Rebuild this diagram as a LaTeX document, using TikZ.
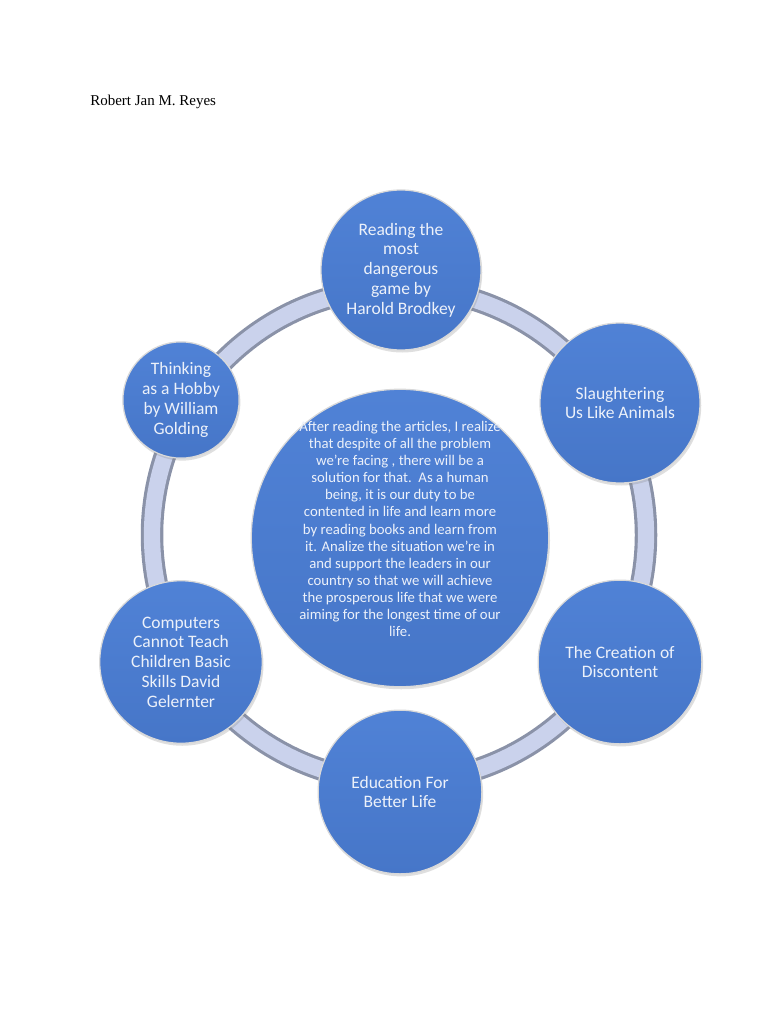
\documentclass[tikz,border=0pt]{standalone}
\usepackage{fontspec}
\setmainfont{Liberation Serif}
\setsansfont{Carlito}
\usetikzlibrary{shadows}
\definecolor{blauClar}{RGB}{80,130,214}
\definecolor{blauFosc}{RGB}{70,118,200}
\definecolor{textClar}{RGB}{236,241,250}
\definecolor{anellVora}{RGB}{138,146,168}
\definecolor{anellClar}{RGB}{202,210,236}
\tikzset{
    Tema/.style={circle, draw=white!70!gray, line width=1pt, top color=blauClar, bottom color=blauFosc, text=textClar, align=center, inner sep=0pt, font=\sffamily\fontsize{14}{15.8}\selectfont, drop shadow={opacity=.25, shadow xshift=1pt, shadow yshift=-2pt}},
    TextCentral/.style={text=textClar, align=center, inner sep=0pt, font=\sffamily\fontsize{11.8}{13.7}\selectfont},
    AnellVora/.style={draw=anellVora, line width=18pt},
    AnellMig/.style={draw=anellClar, line width=13pt},
    Autor/.style={font=\rmfamily\fontsize{12}{14}\selectfont, anchor=west, inner sep=0pt}
    }
\begin{document}
\begin{tikzpicture}[x=0.8pt, y=-0.8pt]

\fill[white] (0,0) rectangle (768,1024);
\useasboundingbox (0,0) rectangle (768,1024);

\node[Autor] (Autor) at (90,102) {Robert Jan M. Reyes};

% anell
\coordinate (Mig) at (399,535);
\draw[AnellVora] (Mig) circle[radius=247];
\draw[AnellMig] (Mig) circle[radius=247];

% temes
\node[Tema, minimum size=128pt] (Lectura) at (401,270) {Reading the\\most\\dangerous\\game by\\Harold Brodkey};
\node[Tema, minimum size=128pt] (Matanca) at (620,403) {Slaughtering\\Us Like Animals};
\node[Tema, minimum size=131pt] (Creacio) at (620,662) {The Creation of\\Discontent};
\node[Tema, minimum size=131pt] (Educacio) at (400,792) {Education For\\Better Life};
\node[Tema, minimum size=130pt] (Ordinadors) at (181,662) {Computers\\Cannot Teach\\Children Basic\\Skills David\\Gelernter};
\node[Tema, minimum size=93pt] (Pensar) at (181,400) {Thinking\\as a Hobby\\by William\\Golding};

% centre
\node[Tema, minimum size=238pt] (Centre) at (400,538) {};
\node[TextCentral] (TextCentre) at (400,529) {After reading the articles, I realize\\that despite of all the problem\\we're facing , there will be a\\solution for that.\ \ As a human\\being, it is our duty to be\\contented in life and learn more\\by reading books and learn from\\it. Analize the situation we're in\\and support the leaders in our\\country so that we will achieve\\the prosperous life that we were\\aiming for the longest time of our\\life.};

\end{tikzpicture}
\end{document}
